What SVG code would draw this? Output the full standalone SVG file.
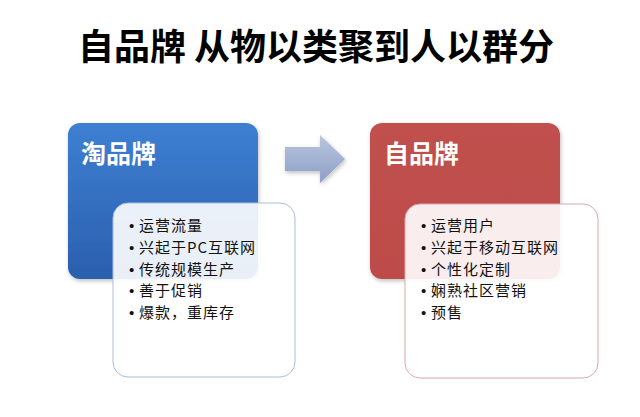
<svg xmlns="http://www.w3.org/2000/svg" width="640" height="417" viewBox="0 0 640 417">
<defs>
<linearGradient id="gBlue" x1="0" y1="0" x2="0" y2="1"><stop offset="0" stop-color="#3d7fd2"/><stop offset="1" stop-color="#2b5fae"/></linearGradient>
<linearGradient id="gRed" x1="0" y1="0" x2="0" y2="1"><stop offset="0" stop-color="#c0504d"/><stop offset="1" stop-color="#bd4c49"/></linearGradient>
<linearGradient id="gArrow" x1="0" y1="0" x2="0" y2="1"><stop offset="0" stop-color="#b9c6de"/><stop offset="1" stop-color="#8d9fc6"/></linearGradient>
<filter id="sh" x="-10%" y="-10%" width="130%" height="130%"><feDropShadow dx="1" dy="2" stdDeviation="2" flood-color="#000" flood-opacity="0.25"/></filter>
<style>
.title{font-family:"Noto Sans CJK SC","Liberation Sans",sans-serif;font-weight:bold;font-size:36px;fill:#000}
.head{font-family:"Noto Sans CJK SC","Liberation Sans",sans-serif;font-weight:bold;font-size:25px;fill:#fff}
.item{font-family:"Noto Sans CJK SC","Liberation Sans",sans-serif;font-size:15px;letter-spacing:1px;fill:#111}
.dot{font-family:"Liberation Sans",sans-serif;font-size:15px;fill:#111}
.card{fill:#fff;fill-opacity:0.9}
</style>
</defs>
<rect width="640" height="417" fill="#fff"/>
<text class="title" x="316" y="60" text-anchor="middle">自品牌 从物以类聚到人以群分</text>

<g id="taobao">
<rect x="68" y="123" width="190" height="156" rx="12" fill="url(#gBlue)" filter="url(#sh)"/>
<text class="head" x="81" y="163">淘品牌</text>
</g>
<g id="taobao-list">
<rect class="card" x="113" y="203" width="182" height="174" rx="15" stroke="#a9bddf" stroke-width="1"/>
<g class="dot"><text x="129" y="231">•</text><text x="129" y="252.75">•</text><text x="129" y="274.5">•</text><text x="129" y="296.25">•</text><text x="129" y="318">•</text></g>
<text class="item" x="139" y="231">运营流量</text>
<text class="item" x="139" y="252.75">兴起于PC互联网</text>
<text class="item" x="139" y="274.5">传统规模生产</text>
<text class="item" x="139" y="296.25">善于促销</text>
<text class="item" x="139" y="318">爆款，重库存</text>
</g>

<g id="zipinpai">
<rect x="370" y="123" width="190" height="156" rx="12" fill="url(#gRed)" filter="url(#sh)"/>
<text class="head" x="384" y="163">自品牌</text>
</g>
<g id="zipinpai-list">
<rect class="card" x="405" y="204" width="193" height="174" rx="15" stroke="#d8a9ab" stroke-width="1"/>
<g class="dot"><text x="421" y="231">•</text><text x="421" y="252.75">•</text><text x="421" y="274.5">•</text><text x="421" y="296.25">•</text><text x="421" y="318">•</text></g>
<text class="item" x="431" y="231">运营用户</text>
<text class="item" x="431" y="252.75">兴起于移动互联网</text>
<text class="item" x="431" y="274.5">个性化定制</text>
<text class="item" x="431" y="296.25">娴熟社区营销</text>
<text class="item" x="431" y="318">预售</text>
</g>

<g id="connectors">
<path d="M285 147 H320 V135 L345 159 L320 183 V171 H285 Z" fill="url(#gArrow)" filter="url(#sh)"/>
</g>
</svg>
